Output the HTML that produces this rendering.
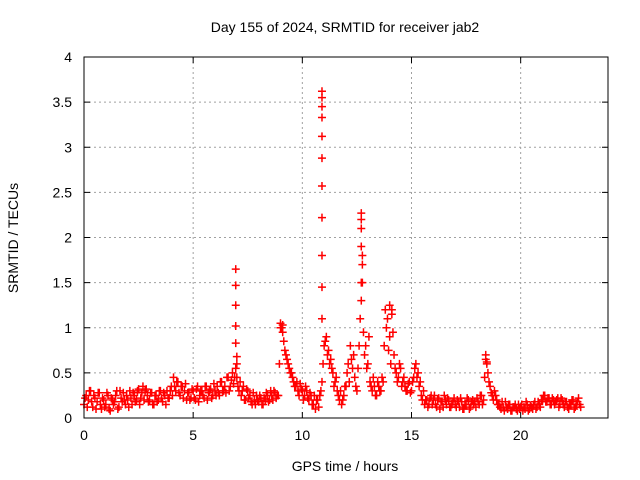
<!DOCTYPE html>
<html><head><meta charset="utf-8"><style>
body{margin:0;background:#fff}
svg{display:block;font-family:"Liberation Sans",sans-serif}
</style></head><body>
<svg id="chart" width="640" height="480">
<text x="345" y="32" text-anchor="middle" font-size="14">Day 155 of 2024, SRMTID for receiver jab2</text>
<text x="345" y="471" text-anchor="middle" font-size="14">GPS time / hours</text>
<text transform="translate(18,238) rotate(-90)" text-anchor="middle" font-size="14">SRMTID / TECUs</text>
<g id="grid"></g>
<g id="axes"></g>
<g id="marks"></g>
<rect x="84" y="57" width="524" height="361" fill="none" stroke="#000" stroke-width="1"/>
</svg>
<script>
const xTicks=[0,5,10,15,20];
const yTicks=[0,0.5,1,1.5,2,2.5,3,3.5,4];
const yTickLabels=["0","0.5","1","1.5","2","2.5","3","3.5","4"];
const step=0.1;
const values=[
0.15,0.25,0.2,0.3,0.12,0.22,0.18,0.28,0.1,0.2,
0.15,0.25,0.08,0.2,0.18,0.3,0.12,0.22,0.28,0.15,
0.2,0.3,0.15,0.25,0.2,0.32,0.22,0.35,0.3,0.25,
0.2,0.28,0.15,0.25,0.2,0.3,0.18,0.25,0.3,0.22,
0.35,0.45,0.3,0.4,0.25,0.35,0.3,0.2,0.28,0.22,
0.3,0.2,0.35,0.25,0.3,0.22,0.35,0.28,0.32,0.25,
0.3,0.35,0.25,0.4,0.3,0.28,0.45,0.35,0.5,0.45,
0.45,0.3,0.25,0.35,0.2,0.3,0.25,0.15,0.2,0.25,
0.18,0.22,0.15,0.2,0.25,0.2,0.25,0.3,0.22,0.25,
1.05,0.95,0.75,0.65,0.55,0.5,0.4,0.35,0.3,0.38,
0.3,0.25,0.3,0.2,0.25,0.15,0.1,0.2,0.25,0.4,
0.8,0.9,0.75,0.65,0.5,0.4,0.3,0.2,0.15,0.25,
0.35,0.6,0.8,0.55,0.45,0.3,0.8,1.5,0.95,0.8,
0.6,0.4,0.3,0.35,0.25,0.35,0.3,0.4,1.2,1.1,
0.9,1.15,0.7,0.5,0.45,0.55,0.4,0.35,0.3,0.4,
0.3,0.45,0.6,0.5,0.4,0.2,0.15,0.2,0.15,0.25,
0.2,0.15,0.2,0.1,0.18,0.25,0.15,0.2,0.12,0.18,
0.15,0.2,0.12,0.18,0.1,0.15,0.2,0.12,0.2,0.18,
0.22,0.15,0.25,0.2,0.65,0.5,0.35,0.25,0.3,0.2,
0.15,0.1,0.12,0.18,0.1,0.15,0.08,0.12,0.1,0.15,
0.12,0.08,0.1,0.15,0.1,0.12,0.15,0.1,0.18,0.12,
0.2,0.25,0.18,0.22,0.15,0.2,0.18,0.22,0.15,0.2,
0.12,0.18,0.1,0.15,0.2,0.12,0.18,0.15];
const values2=[
0.22,0.12,0.3,0.18,0.25,0.1,0.28,0.15,0.22,0.12,
0.28,0.1,0.22,0.15,0.25,0.1,0.3,0.18,0.2,0.25,
0.12,0.22,0.28,0.18,0.3,0.15,0.28,0.2,0.32,0.18,
0.28,0.15,0.25,0.18,0.3,0.22,0.28,0.15,0.22,0.3,
0.25,0.35,0.4,0.28,0.35,0.22,0.38,0.28,0.2,0.32,
0.22,0.32,0.18,0.3,0.25,0.35,0.2,0.3,0.22,0.38,
0.25,0.28,0.4,0.3,0.35,0.45,0.3,0.42,0.38,0.55,
0.35,0.4,0.3,0.2,0.32,0.22,0.18,0.28,0.15,0.2,
0.25,0.15,0.22,0.28,0.18,0.3,0.2,0.28,0.25,0.6,
1.0,0.85,0.7,0.6,0.5,0.45,0.35,0.4,0.25,0.32,
0.2,0.35,0.22,0.28,0.15,0.25,0.2,0.12,0.3,0.6,
0.85,0.7,0.6,0.55,0.35,0.45,0.25,0.3,0.2,0.35,
0.5,0.4,0.65,0.7,0.35,0.55,1.1,1.8,0.7,0.55,
0.9,0.35,0.45,0.25,0.4,0.3,0.45,0.8,1.0,0.75,
0.6,0.95,0.55,0.4,0.6,0.35,0.45,0.3,0.38,0.28,
0.4,0.55,0.45,0.35,0.25,0.3,0.2,0.12,0.22,0.15,
0.25,0.12,0.22,0.18,0.12,0.2,0.22,0.12,0.15,0.22,
0.12,0.18,0.22,0.1,0.15,0.22,0.1,0.18,0.15,0.12,
0.18,0.25,0.15,0.45,0.6,0.4,0.28,0.2,0.25,0.15,
0.12,0.18,0.08,0.12,0.15,0.08,0.12,0.15,0.08,0.1,
0.15,0.12,0.18,0.08,0.14,0.1,0.18,0.12,0.15,0.2,
0.25,0.18,0.22,0.15,0.22,0.15,0.2,0.12,0.22,0.15,
0.18,0.12,0.15,0.2,0.1,0.15,0.22,0.12];
const spikeTimes=[6.95,6.95,6.95,6.95,6.95,7.0,7.0,10.9,10.9,10.9,10.9,10.9,10.9,10.9,10.9,10.9,10.9,10.9,12.7,12.7,12.7,12.7,12.75,12.75,12.7,14.0,14.1,18.4,18.45,9.1,9.0];
const spikeValues=[1.65,1.47,1.25,1.02,0.83,0.68,0.6,3.62,3.55,3.45,3.33,3.12,2.88,2.57,2.22,1.8,1.45,1.1,2.27,2.2,2.1,1.9,1.7,1.5,1.3,1.25,1.2,0.7,0.62,1.03,1.0];
const X0=84,X1=608,Y0=418,Y1=57;
function xs(t){return X0+t*(X1-X0)/24;}
function ys(v){return Y0-v*(Y0-Y1)/4;}
const NS="http://www.w3.org/2000/svg";
const grid=document.getElementById('grid'),axes=document.getElementById('axes'),marks=document.getElementById('marks');
function mk(tag,a,p){const e=document.createElementNS(NS,tag);for(const k in a)e.setAttribute(k,a[k]);p.appendChild(e);return e;}
xTicks.forEach((t,i)=>{const x=xs(t);
 if(t>0){const g=mk('line',{x1:x,x2:x,y1:Y1,y2:Y0,stroke:'#a0a0a0','stroke-dasharray':'2,3'},grid);
 
 }
 const tk=mk('path',{d:`M${x},${Y0}v-6M${x},${Y1}v6`,stroke:'#000'},axes);
 
 
 const l=mk('text',{x:x,y:Y0+22,'text-anchor':'middle','font-size':'14'},axes);l.textContent=String(t);
 
 });
yTicks.forEach((v,i)=>{const y=ys(v);
 if(v>0&&v<4){const g=mk('line',{x1:X0,x2:X1,y1:y,y2:y,stroke:'#a0a0a0','stroke-dasharray':'2,3'},grid);
 
 }
 const tk=mk('path',{d:`M${X0},${y}h6M${X1},${y}h-6`,stroke:'#000'},axes);
 
 
 const l=mk('text',{x:X0-12,y:y+5,'text-anchor':'end','font-size':'14'},axes);l.textContent=yTickLabels[i];
 
 });
function plus(t,v){const x=xs(t),y=ys(v);
 const p=mk('path',{d:`M${x-4},${y}h8M${x},${y-4}v8`,stroke:'#f00','stroke-width':'1.5'},marks);
 
 }
values.forEach((v,i)=>plus(i*step,v));
values2.forEach((v,i)=>plus(i*step+0.05,v));
spikeTimes.forEach((t,i)=>plus(t,spikeValues[i]));
</script>
</body></html>
